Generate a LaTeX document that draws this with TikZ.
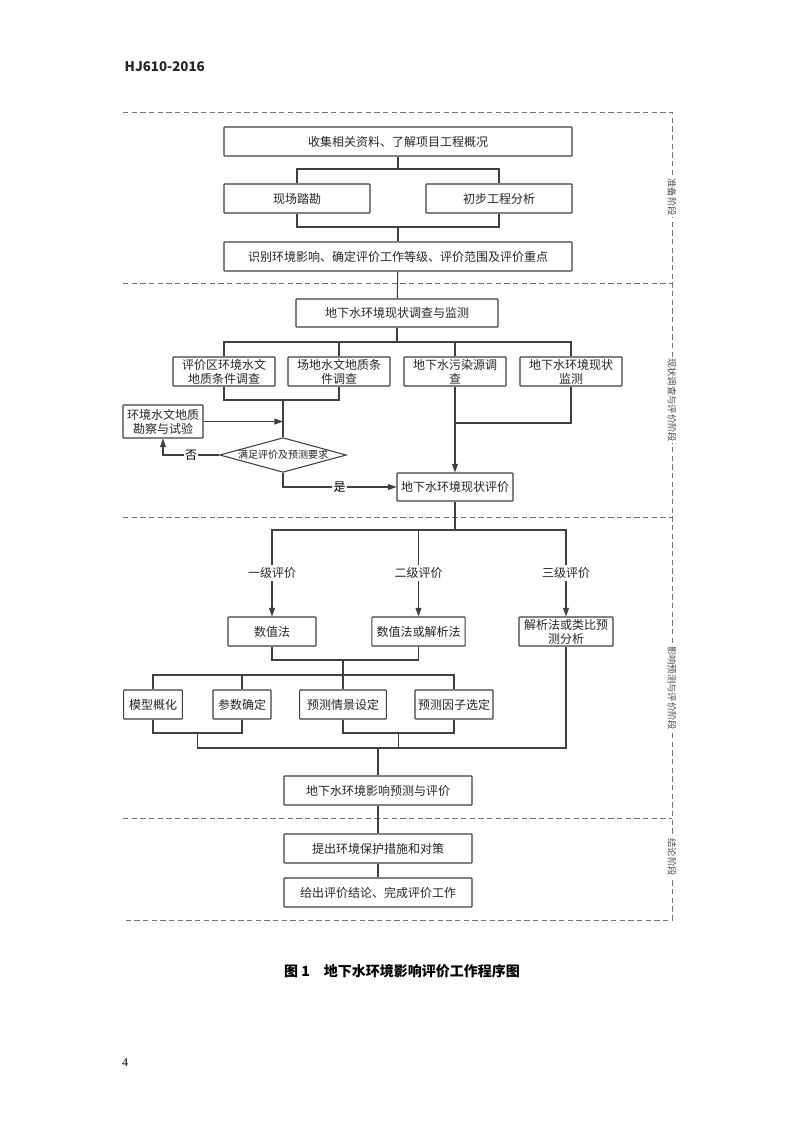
\documentclass[tikz,border=0pt]{standalone}
\usepackage{fontspec}
\setmainfont{Noto Sans CJK SC}
\newfontfamily\serifnum{Liberation Serif}
\usetikzlibrary{shapes.geometric,arrows.meta}

\begin{document}
\begin{tikzpicture}[x=0.75pt, y=-0.75pt,
    box/.style={draw=black!75, line width=0.8pt, rounded corners=0.5pt, inner sep=1pt,
        font=\fontsize{9}{10.5}\selectfont, text=black!85, align=center, minimum height=21.75pt},
    link/.style={draw=black!75, line width=0.8pt},
    arr/.style={link, -{Triangle[length=6.5pt,width=4.5pt]}},
    phase/.style={draw=black!55, line width=0.7pt, dash pattern=on 4pt off 2.5pt},
    phaselabel/.style={fill=white, rotate=-90, font=\fontsize{7}{8}\selectfont, inner sep=1pt, text=black!70},
    grade/.style={fill=white, font=\fontsize{9}{10}\selectfont, text=black!85, inner sep=2pt}]
    \fill[white] (0,0) rectangle (800,1132);
    \useasboundingbox (0,0) rectangle (800,1132);

    % Page header and number
    \node[anchor=west, font=\bfseries\fontsize{10}{12}\selectfont, text=black!85] (code) at (120,67) {HJ610-2016};
    \node[font=\serifnum\fontsize{9}{10}\selectfont] (page) at (125,1063) {4};

    % Phase frames
    \draw[phase] (123,112) -- (672,112) -- (672,920) -- (123,920);
    \foreach \y in {283,517,818}
        \draw[phase] (123,\y) -- (672,\y);

    % Preparation phase
    \node[box, minimum width=261pt] (collect) at (398,141.5) {收集相关资料、了解项目工程概况};
    \node[box, minimum width=109.5pt] (survey) at (297,198.5) {现场踏勘};
    \node[box, minimum width=109.5pt] (prelim) at (499,198.5) {初步工程分析};
    \node[box, minimum width=261pt] (identify) at (398,256.5) {识别环境影响、确定评价工作等级、评价范围及评价重点};

    \coordinate (j1) at (398,169);
    \coordinate (j2) at (398,227);
    \draw[link] (collect) -- (j1);
    \draw[link] (survey.north) |- (j1) -| (prelim.north);
    \draw[link] (survey.south) |- (j2) -| (prelim.south);
    \draw[link] (j2) -- (identify);

    % Survey and assessment phase
    \node[box, minimum width=151.5pt, minimum height=21pt] (status) at (397,313) {地下水环境现状调查与监测};
    \node[box, minimum width=76.5pt] (hydroarea) at (224,371.5) {评价区环境水文\\地质条件调查};
    \node[box, minimum width=76.5pt] (hydrosite) at (339,371.5) {场地水文地质条\\件调查};
    \node[box, minimum width=76.5pt] (pollution) at (455,371.5) {地下水污染源调\\查};
    \node[box, minimum width=76.5pt] (monitor) at (571,371.5) {地下水环境现状\\监测};
    \node[box, minimum width=60pt, minimum height=24.75pt] (explore) at (163,421.5) {环境水文地质\\勘察与试验};
    \node[diamond, draw=black!75, line width=0.8pt, aspect=3.6, inner sep=0pt,
        minimum width=95pt, minimum height=26pt, font=\fontsize{7.5}{8}\selectfont, text=black!85] (meet) at (283,455) {满足评价及预测要求};
    \node[box, minimum width=87pt, minimum height=21pt] (assess) at (455,487) {地下水环境现状评价};

    \draw[link] (identify) -- (status);
    \coordinate (j3) at (397,342);
    \coordinate (j4) at (283,400);
    \coordinate (j5) at (283,421.5);
    \coordinate (j6) at (455,423);
    \draw[link] (status) -- (j3);
    \draw[link] (hydroarea.north) |- (j3) -| (monitor.north);
    \draw[link] (hydrosite.north) -- (hydrosite.north |- j3);
    \draw[link] (pollution.north) -- (pollution.north |- j3);
    \draw[link] (hydroarea.south) |- (j4) -| (hydrosite.south);
    \draw[link] (j4) -- (meet);
    \draw[arr] (explore) -- (j5);
    \draw[arr] (meet.west) -| (explore.south) node[pos=0.25, fill=white, inner sep=1pt, font=\fontsize{9}{10}\selectfont] (no) {否};
    \draw[arr] (meet.south) |- (assess.west) node[pos=0.75, fill=white, inner sep=1pt, font=\fontsize{9}{10}\selectfont] (yes) {是};
    \draw[arr] (pollution) -- (assess);
    \draw[link] (monitor.south) |- (j6);

    % Prediction and assessment phase
    \node[box, minimum width=66pt] (numeric) at (272,631.5) {数值法};
    \node[box, minimum width=70pt] (numana) at (418.5,631.5) {数值法或解析法};
    \node[box, minimum width=70.5pt] (analog) at (566,631.5) {解析法或类比预\\测分析};

    \coordinate (j7) at (455,530);
    \draw[link] (assess) -- (j7);
    \draw[arr] (j7) -| (numeric.north);
    \draw[arr] (j7) -| (numana.north);
    \draw[arr] (j7) -| (analog.north);
    \node[grade] (g1) at (272,573) {一级评价};
    \node[grade] (g2) at (418.5,573) {二级评价};
    \node[grade] (g3) at (566,573) {三级评价};

    \node[box, minimum width=44pt] (concept) at (153,704.5) {模型概化};
    \node[box, minimum width=43.5pt] (param) at (242,704.5) {参数确定};
    \node[box, minimum width=65pt] (scenario) at (343,704.5) {预测情景设定};
    \node[box, minimum width=58.5pt] (factor) at (454,704.5) {预测因子选定};
    \node[box, minimum width=141pt] (predict) at (378,790.5) {地下水环境影响预测与评价};

    \coordinate (j8) at (343,660);
    \coordinate (j9) at (343,675);
    \coordinate (j10) at (197.5,733);
    \coordinate (j11) at (398.5,733);
    \coordinate (j12) at (378,748);
    \draw[link] (numeric.south) |- (j8) -| (numana.south);
    \draw[link] (j8) -- (j9);
    \draw[link] (concept.north) |- (j9) -| (factor.north);
    \draw[link] (param.north) -- (param.north |- j9);
    \draw[link] (scenario) -- (j9);
    \draw[link] (concept.south) |- (j10) -| (param.south);
    \draw[link] (scenario.south) |- (j11) -| (factor.south);
    \draw[link] (j10) |- (j12);
    \draw[link] (j11) |- (j12);
    \draw[link] (analog.south) |- (j12);
    \draw[link] (j12) -- (predict);

    % Conclusion phase
    \node[box, minimum width=141pt] (measure) at (378,848.5) {提出环境保护措施和对策};
    \node[box, minimum width=141pt] (conclude) at (378,892.5) {给出评价结论、完成评价工作};
    \draw[link] (predict) -- (measure);
    \draw[link] (measure) -- (conclude);

    % Phase labels
    \node[phaselabel] (prep) at (672,197) {准备阶段};
    \node[phaselabel] (surveyphase) at (672,400) {现状调查与评价阶段};
    \node[phaselabel] (predictphase) at (672,688) {影响预测与评价阶段};
    \node[phaselabel] (endphase) at (672,857) {结论阶段};

    % Caption
    \node[font=\bfseries\fontsize{10.5}{12}\selectfont] (caption) at (402,971) {图 1\quad 地下水环境影响评价工作程序图};
\end{tikzpicture}
\end{document}
